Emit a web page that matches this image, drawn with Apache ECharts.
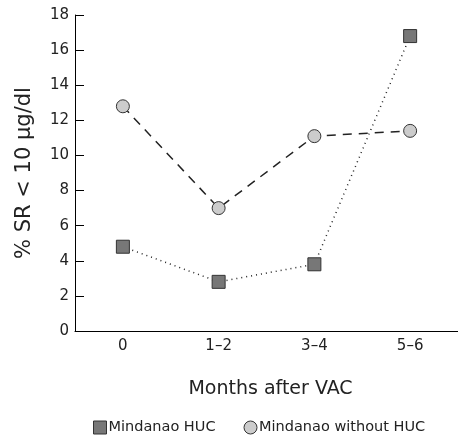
<!DOCTYPE html>
<html>
<head>
<meta charset="utf-8">
<script src="https://cdn.jsdelivr.net/npm/echarts@6/dist/echarts.min.js"></script>
<style>
  html, body { margin: 0; padding: 0; background: #fff; }
  #chart { width: 458px; height: 437px; }
</style>
</head>
<body>
<div id="chart"></div>
<script>
const categories = ['0', '1–2', '3–4', '5–6'];
const hucValues = [4.8, 2.8, 3.8, 16.8];
const noHucValues = [12.8, 7.0, 11.1, 11.4];

const font = 'DejaVu Sans';
const myChart = echarts.init(document.getElementById('chart'));

myChart.setOption({
  animation: false,
  grid: { left: 75, right: -3, top: 15, bottom: 106 },
  legend: {
    bottom: -3,
    left: 88,
    itemWidth: 13,
    itemHeight: 13,
    itemGap: 28,
    itemStyle: { borderWidth: 1 },
    textStyle: { fontFamily: font, fontSize: 14.5, color: '#222', padding: [0, 0, 0, -3] },
    data: [
      { name: 'Mindanao HUC', icon: 'rect' },
      { name: 'Mindanao without HUC', icon: 'circle' },
    ],
  },
  xAxis: {
    type: 'category',
    data: categories,
    boundaryGap: true,
    name: 'Months after VAC',
    nameLocation: 'middle',
    nameGap: 49,
    nameTextStyle: { fontFamily: font, fontSize: 19, color: '#222', padding: [0, 0, 0, 8] },
    axisLine: { lineStyle: { color: '#000', width: 1 } },
    axisTick: { show: false },
    axisLabel: { fontFamily: font, fontSize: 15, color: '#222', margin: 8 },
  },
  yAxis: {
    type: 'value',
    min: 0,
    max: 18,
    interval: 2,
    name: '% SR < 10 µg/dl',
    nameLocation: 'middle',
    nameGap: 40,
    nameTextStyle: { fontFamily: font, fontSize: 21, color: '#222' },
    axisLine: { show: true, lineStyle: { color: '#000', width: 1 } },
    axisTick: { show: true, inside: true, length: 9, lineStyle: { color: '#000' } },
    axisLabel: { fontFamily: font, fontSize: 15, color: '#222', margin: 6 },
    splitLine: { show: false },
  },
  series: [
    {
      name: 'Mindanao HUC',
      type: 'line',
      data: hucValues,
      symbol: 'rect',
      symbolSize: 13,
      itemStyle: { color: '#777', borderColor: '#333', borderWidth: 1 },
      lineStyle: { color: '#222', width: 1.5, type: [1, 4] },
      z: 3,
    },
    {
      name: 'Mindanao without HUC',
      type: 'line',
      data: noHucValues,
      symbol: 'circle',
      symbolSize: 13,
      itemStyle: { color: '#ccc', borderColor: '#333', borderWidth: 1 },
      lineStyle: { color: '#222', width: 1.5, type: [9, 7] },
      z: 2,
    },
  ],
});
</script>
</body>
</html>
